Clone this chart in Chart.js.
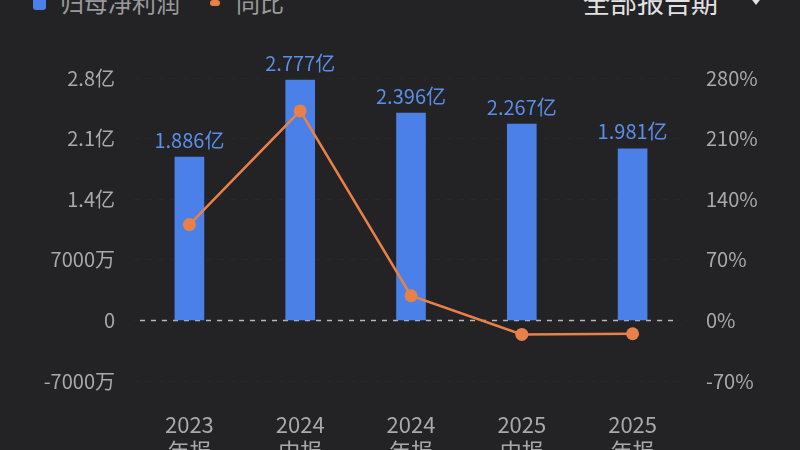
<!DOCTYPE html>
<html>
<head>
<meta charset="utf-8">
<script src="https://cdn.jsdelivr.net/npm/chart.js@4"></script>
<style>
  html, body { margin: 0; padding: 0; background: #232325; overflow: hidden; }
  body { width: 800px; height: 450px; position: relative; font-family: "Noto Sans CJK SC", "Noto Sans", sans-serif; }
  #wrap { position: absolute; left: 0; top: 0; width: 800px; height: 470px; }
  .legend { position: absolute; top: -16px; left: 33px; font-size: 24px; color: #9a9a9c; white-space: nowrap; }
  .legend span { display: inline-block; vertical-align: top; }
  .legend .box { width: 13px; height: 24px; border-radius: 3px; background: #4a80e8; margin-right: 14px; margin-top: 2px; }
  .legend .dash { width: 10px; height: 6px; border-radius: 3px; background: #e8804a; margin: 16px 16px 0 30px; }
  .period { position: absolute; top: -18px; left: 583px; font-size: 27px; color: #e2e2e4; }
  .arrow { position: absolute; top: -4px; left: 749px; width: 0; height: 0; border-left: 7px solid transparent; border-right: 7px solid transparent; border-top: 9px solid #e2e2e4; }
</style>
</head>
<body>
<div class="legend"><span class="box"></span><span>归母净利润</span><span class="dash"></span><span>同比</span></div>
<div class="period">全部报告期</div>
<div class="arrow"></div>
<div id="wrap"><canvas id="chart"></canvas></div>
<script>
// Report periods
const categories = [['2023', '年报'], ['2024', '中报'], ['2024', '年报'], ['2025', '中报'], ['2025', '年报']];
// 归母净利润 (元)
const profit = [1.886e8, 2.777e8, 2.396e8, 2.267e8, 1.981e8];
const profitLabels = ['1.886亿', '2.777亿', '2.396亿', '2.267亿', '1.981亿'];
// 同比 (%)
const yoy = [110.7, 242, 28.5, -16.2, -15.4];

const tickFont = { family: '"Noto Sans CJK SC", "Noto Sans", sans-serif', size: 20 };

const formatMoney = (v) => {
  if (v === 0) return '0';
  if (Math.abs(v) >= 1e8) return (v / 1e8).toFixed(1) + '亿';
  return Math.round(v / 1e4) + '万';
};

const ctx = document.getElementById('chart');
// eslint-disable-next-line no-unused-vars
const chart = new Chart(ctx, {
  data: {
    labels: categories,
    datasets: [
      // Orange YoY line
      {
        type: 'line',
        label: '同比',
        data: yoy,
        yAxisID: 'y1',
        borderColor: '#e8804a',
        backgroundColor: '#e8804a',
        borderWidth: 2.5,
        pointRadius: 6.5,
        pointBorderWidth: 0,
        order: 0,
      },
      // Blue profit bars
      {
        type: 'bar',
        label: '归母净利润',
        data: profit,
        yAxisID: 'y',
        backgroundColor: '#4a80e8',
        barThickness: 29,
        order: 1,
      },
    ],
  },
  options: {
    responsive: true,
    maintainAspectRatio: false,
    animation: false,
    layout: { padding: { top: 78, left: 0, right: 0, bottom: 0 } },
    scales: {
      x: {
        grid: { display: false, drawTicks: false },
        border: { display: false },
        ticks: { color: '#a9a9ab', font: { ...tickFont, size: 22 }, padding: 30, maxRotation: 0 },
        afterFit: (s) => { s.height = 89; },
      },
      y: {
        position: 'left',
        min: -7e7,
        max: 2.8e8,
        grid: { color: 'rgba(255,255,255,0.025)', drawTicks: false },
        border: { display: false, dash: [6, 6] },
        ticks: {
          stepSize: 7e7,
          color: '#a9a9ab',
          font: tickFont,
          padding: 19,
          callback: (v) => formatMoney(v),
        },
        afterFit: (s) => { s.width = 134; },
      },
      y1: {
        position: 'right',
        min: -70,
        max: 280,
        grid: { display: false, drawTicks: false },
        border: { display: false },
        ticks: {
          stepSize: 70,
          color: '#a9a9ab',
          font: tickFont,
          padding: 18,
          callback: (v) => v + '%',
        },
        afterFit: (s) => { s.width = 112; },
      },
    },
    plugins: {
      legend: { display: false },
      tooltip: { enabled: false },
    },
  },
  plugins: [{
    id: 'extras',
    beforeDatasetsDraw(c) {
      // Dashed zero line
      const y = Math.round(c.scales.y.getPixelForValue(0)) + 0.5;
      const g = c.ctx;
      g.save();
      g.strokeStyle = '#b8b8ba';
      g.lineWidth = 1.5;
      g.setLineDash([5, 6]);
      g.beginPath();
      g.moveTo(c.chartArea.left + 6, y);
      g.lineTo(c.chartArea.right - 10, y);
      g.stroke();
      g.restore();
    },
    afterDatasetsDraw(c) {
      // Value labels above the bars
      const meta = c.getDatasetMeta(1);
      const g = c.ctx;
      g.save();
      g.fillStyle = '#5b8ee8';
      g.font = '20px "Noto Sans CJK SC", "Noto Sans", sans-serif';
      g.textAlign = 'center';
      g.textBaseline = 'middle';
      meta.data.forEach((bar, i) => {
        g.fillText(profitLabels[i], bar.x, bar.y - 17);
      });
      g.restore();
    },
  }],
});
</script>
</body>
</html>
